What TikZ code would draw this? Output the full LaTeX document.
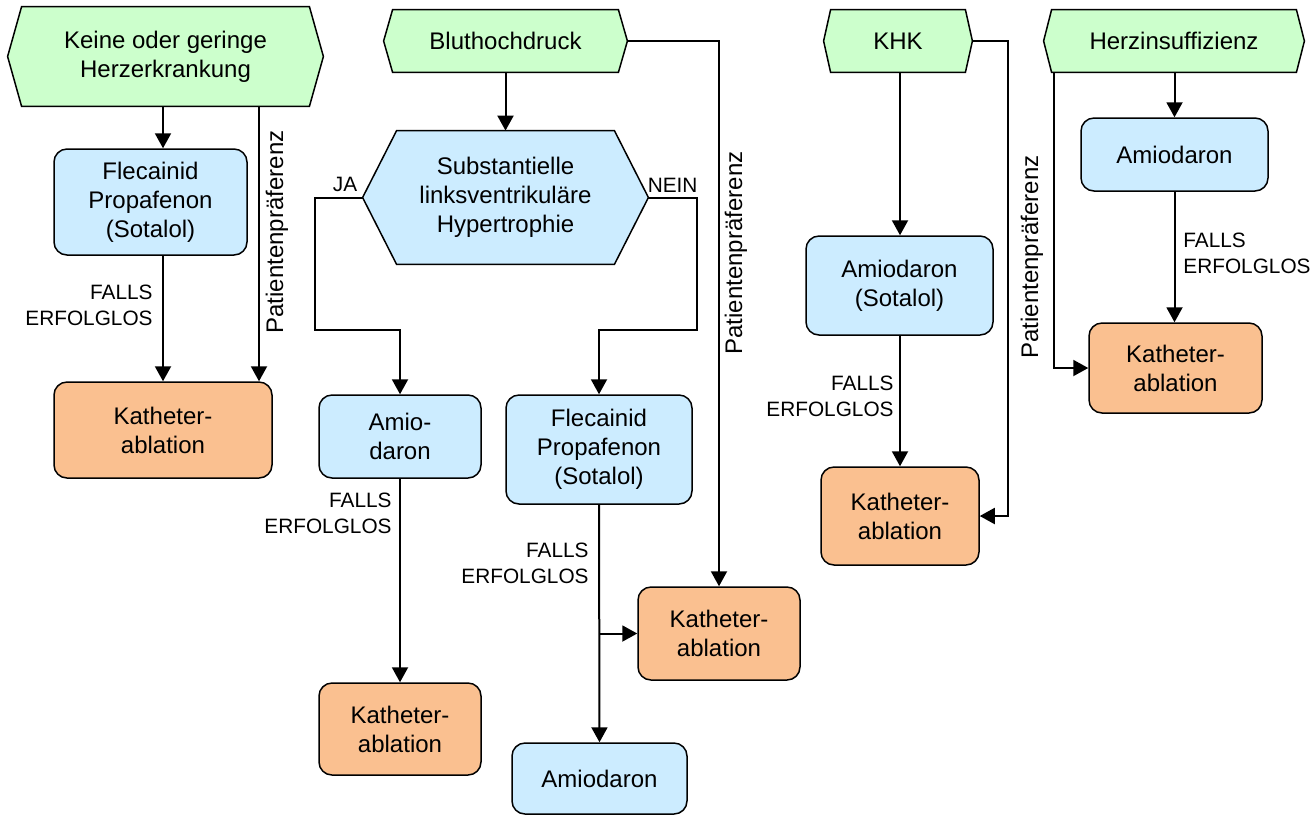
\documentclass[tikz,border=0pt]{standalone}
\usepackage{fontspec}
\setmainfont{Liberation Sans}
\usetikzlibrary{arrows.meta,backgrounds,calc}
\definecolor{EventClr}{RGB}{204,255,204}
\definecolor{DrugClr}{RGB}{204,236,255}
\definecolor{AblClr}{RGB}{250,192,144}

\tikzset{
  txt/.style={align=center,inner sep=0pt,font=\fontsize{12}{14.5}\selectfont},
  box/.style={txt,draw,line width=0.75pt,rounded corners=6.5pt},
  drug/.style={box,fill=DrugClr},
  abl/.style={box,fill=AblClr},
  link/.style={line width=1pt},
  arr/.style={link,-{Triangle[length=7.5pt,width=8pt]}},
  note/.style={inner sep=0pt,font=\fontsize{10.4}{13}\selectfont},
  vnote/.style={txt,rotate=90}
}

% hexagon frame drawn behind a named node
\newcommand{\hexframe}[3]{%
  \begin{pgfonlayer}{background}
    \draw[line width=0.75pt,fill=#3] (#1.west) -- ([xshift=#2]#1.north west)
      -- ([xshift=-#2]#1.north east) -- (#1.east) -- ([xshift=-#2]#1.south east)
      -- ([xshift=#2]#1.south west) -- cycle;
  \end{pgfonlayer}}

\begin{document}
\begin{tikzpicture}[x=0.5pt,y=-0.5pt]
\useasboundingbox (0,0) rectangle (1316,816);

% entry conditions
\node[txt,minimum width=157.5pt,minimum height=49.5pt] (h1) at (165.5,56.5) {Keine oder geringe\\Herzerkrankung};
\node[txt,minimum width=121.5pt,minimum height=31pt] (h2) at (505.5,41) {Bluthochdruck};
\node[txt,minimum width=74pt,minimum height=31pt] (h3) at (898,41) {KHK};
\node[txt,minimum width=130pt,minimum height=31pt] (h4) at (1174,41) {Herzinsuffizienz};
\node[txt,minimum width=142.5pt,minimum height=66.5pt] (lvh) at (505.5,197.5) {Substantielle\\linksventrikuläre\\Hypertrophie};
\hexframe{h1}{7pt}{EventClr}
\hexframe{h2}{4.5pt}{EventClr}
\hexframe{h3}{3.5pt}{EventClr}
\hexframe{h4}{4pt}{EventClr}
\hexframe{lvh}{17pt}{DrugClr}

% therapies
\node[drug,minimum width=96.5pt,minimum height=53pt] (fl1) at (150.5,202) {Flecainid\\Propafenon\\(Sotalol)};
\node[abl,minimum width=109pt,minimum height=48pt] (kat1) at (163,430) {Katheter-\\ablation};
\node[drug,minimum width=81pt,minimum height=41.5pt] (amio1) at (400,436.5) {Amio-\\daron};
\node[abl,minimum width=81pt,minimum height=46pt] (kat2) at (400,729) {Katheter-\\ablation};
\node[drug,minimum width=93pt,minimum height=54.5pt] (fl2) at (599,449.5) {Flecainid\\Propafenon\\(Sotalol)};
\node[drug,minimum width=87.5pt,minimum height=35.5pt] (amio2) at (599.5,778.5) {Amiodaron};
\node[abl,minimum width=81pt,minimum height=46.5pt] (kat3) at (719,633.5) {Katheter-\\ablation};
\node[drug,minimum width=93.5pt,minimum height=49.5pt] (amks) at (899.5,285.5) {Amiodaron\\(Sotalol)};
\node[abl,minimum width=79pt,minimum height=49pt] (kat4) at (900,516) {Katheter-\\ablation};
\node[drug,minimum width=93.5pt,minimum height=36.5pt] (amh) at (1174.5,154.5) {Amiodaron};
\node[abl,minimum width=86.5pt,minimum height=45pt] (kat5) at (1175.5,368) {Katheter-\\ablation};

% bend points
\coordinate (pp1) at (259,0);
\coordinate (ja) at (315,330);
\coordinate (nein) at (697,330);
\coordinate (khk) at (1008,0);
\coordinate (hz) at (1054,0);

% column 1
\draw[arr] (kat1.north |- h1.south) -- (kat1.north |- fl1.north);
\draw[arr] (kat1.north |- fl1.south) -- (kat1.north);
\draw[arr] (h1.south -| pp1) -- (kat1.north -| pp1);
\node[note,anchor=east,align=right] (f1) at (153,305) {FALLS\\ERFOLGLOS};
\node[vnote] (p1) at (277,232) {Patientenpräferenz};

% column 2
\draw[arr] (h2.south) -- (lvh.north);
\draw[arr] (h2.east) -| (kat3.north);
\draw[arr] (lvh.west) -| (ja) -| (amio1.north);
\draw[arr] (lvh.east) -| (nein) -| (fl2.north);
\node[note,anchor=south east] (ja-l) at ([xshift=-2.5pt,yshift=2.5pt]lvh.west) {JA};
\node[note,anchor=south west] (nein-l) at ([xshift=-0.5pt,yshift=2.5pt]lvh.east) {NEIN};
\draw[arr] (amio1.south) -- (kat2.north);
\node[note,anchor=east,align=right] (f2) at (392,513) {FALLS\\ERFOLGLOS};
\draw[arr] (fl2.south) -- (amio2.north);
\draw[arr] (fl2.south |- kat3.west) -- (kat3.west);
\node[note,anchor=east,align=right] (f3) at (589,563) {FALLS\\ERFOLGLOS};
\node[vnote] (p2) at (736,253) {Patientenpräferenz};

% column 3
\draw[arr] (kat4.north |- h3.south) -- (kat4.north |- amks.north);
\draw[arr] (kat4.north |- amks.south) -- (kat4.north);
\draw[arr] (h3.east) -| (khk |- kat4.east) -- (kat4.east);
\node[note,anchor=east,align=right] (f4) at (894,396) {FALLS\\ERFOLGLOS};
\node[vnote] (p3) at (1032,257) {Patientenpräferenz};

% column 4
\draw[arr] (amh.north |- h4.south) -- (amh.north);
\draw[arr] (amh.south) -- (amh.south |- kat5.north);
\draw[arr] (h4.south -| hz) |- (kat5.west);
\node[note,anchor=west,align=left] (f5) at (1183,253) {FALLS\\ERFOLGLOS};

\end{tikzpicture}
\end{document}
